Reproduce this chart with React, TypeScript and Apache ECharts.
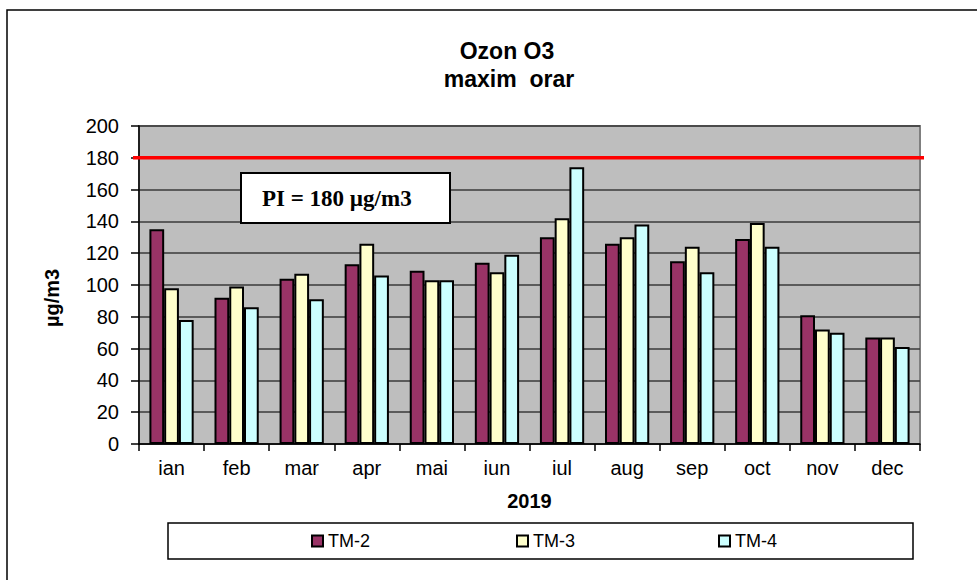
import React, { useEffect, useRef } from 'react';
import * as echarts from 'echarts';

const months = ['ian', 'feb', 'mar', 'apr', 'mai', 'iun', 'iul', 'aug', 'sep', 'oct', 'nov', 'dec'];
const tm2 = [135, 92, 104, 113, 109, 114, 130, 126, 115, 129, 81, 67];
const tm3 = [98, 99, 107, 126, 103, 108, 142, 130, 124, 139, 72, 67];
const tm4 = [78, 86, 91, 106, 103, 119, 174, 138, 108, 124, 70, 61];
const seriesNames = ['TM-2', 'TM-3', 'TM-4'];
const seriesColors = ['#993366', '#FFFFCC', '#CCFFFF'];
const yMin = 0;
const yMax = 200;
const yInterval = 20;
const limitValue = 180;
const limitLabel = 'PI = 180 µg/m3';
const titleLines = ['Ozon O3', 'maxim  orar'];
const xName = '2019';
const yName = 'µg/m3';

const SANS = '"Liberation Sans", Arial, sans-serif';
const SERIF = '"Liberation Serif", "Times New Roman", serif';

export default function App() {
  const ref = useRef<HTMLDivElement>(null);

  useEffect(() => {
    if (!ref.current) return;
    const chart = echarts.init(ref.current, null, { renderer: 'svg' });
    const data = [tm2, tm3, tm4];
    const legendLefts = [311, 516, 718];

    chart.setOption({
      animation: false,
      backgroundColor: '#ffffff',
      textStyle: { fontFamily: SANS },
      grid: {
        left: 139,
        right: 57,
        top: 126,
        bottom: 136,
        show: true,
        backgroundColor: '#BEBEBE',
        borderColor: '#7f7f7f',
        borderWidth: 2,
      },
      legend: seriesNames.map((n, i) => ({
        data: [n],
        left: legendLefts[i],
        top: 532,
        padding: 0,
        z: 10,
        icon: 'rect',
        itemWidth: 11,
        itemHeight: 11,
        textStyle: { fontSize: 18, color: '#000', fontFamily: SANS },
        selectedMode: false,
      })),
      xAxis: {
        type: 'category',
        data: months,
        axisLine: { show: true, lineStyle: { color: '#000', width: 1.5 } },
        axisTick: { show: true, length: 7, lineStyle: { color: '#000', width: 1.5 } },
        axisLabel: { fontSize: 20, color: '#000', margin: 14, fontFamily: SANS },
        name: xName,
        nameLocation: 'middle',
        nameGap: 47,
        nameTextStyle: { fontSize: 20, fontWeight: 'bold', color: '#000', fontFamily: SANS },
        splitLine: { show: false },
      },
      yAxis: {
        type: 'value',
        min: yMin,
        max: yMax,
        interval: yInterval,
        axisLine: { show: true, lineStyle: { color: '#000', width: 1.5 } },
        axisTick: { show: true, length: 8, lineStyle: { color: '#000', width: 1.5 } },
        axisLabel: { fontSize: 20, color: '#000', margin: 20, fontFamily: SANS },
        splitLine: { show: true, lineStyle: { color: '#3a3a3a', width: 1.5 } },
      },
      series: seriesNames.map((n, i) => ({
        type: 'bar',
        name: n,
        data: data[i],
        barGap: '0%',
        barCategoryGap: '32%',
        itemStyle: { color: seriesColors[i], borderColor: '#000', borderWidth: 2 },
        emphasis: { disabled: true },
      })),
    });

    const yLimit = chart.convertToPixel({ yAxisIndex: 0 }, limitValue) as number;

    chart.setOption({
      graphic: [
        {
          type: 'rect',
          z: 0,
          shape: { x: 7, y: 10, width: 1000, height: 600 },
          style: { fill: 'none', stroke: '#000', lineWidth: 1.5 },
          silent: true,
        },
        {
          type: 'text',
          x: 507,
          y: 51,
          style: {
            text: titleLines[0],
            fontSize: 23,
            fontWeight: 'bold',
            fontFamily: SANS,
            fill: '#000',
            textAlign: 'center',
            textVerticalAlign: 'middle',
          },
        },
        {
          type: 'text',
          x: 509,
          y: 79,
          style: {
            text: titleLines[1],
            fontSize: 23,
            fontWeight: 'bold',
            fontFamily: SANS,
            fill: '#000',
            textAlign: 'center',
            textVerticalAlign: 'middle',
          },
        },
        {
          type: 'text',
          x: 52,
          y: 298,
          rotation: Math.PI / 2,
          style: {
            text: yName,
            fontSize: 20,
            fontWeight: 'bold',
            fontFamily: SANS,
            fill: '#000',
            textAlign: 'center',
            textVerticalAlign: 'middle',
          },
        },
        {
          type: 'line',
          z: 20,
          shape: { x1: 133, y1: yLimit, x2: 924, y2: yLimit },
          style: { stroke: '#FF0000', lineWidth: 3.5 },
          silent: true,
        },
        {
          type: 'rect',
          z: 20,
          shape: { x: 241, y: 173, width: 209, height: 50 },
          style: { fill: '#fff', stroke: '#000', lineWidth: 2 },
          silent: true,
        },
        {
          type: 'text',
          z: 21,
          x: 262,
          y: 198,
          style: {
            text: limitLabel,
            fontSize: 23,
            fontWeight: 'bold',
            fontFamily: SERIF,
            fill: '#000',
            textAlign: 'left',
            textVerticalAlign: 'middle',
          },
        },
        {
          type: 'rect',
          z: 1,
          shape: { x: 168, y: 523, width: 745, height: 36 },
          style: { fill: '#fff', stroke: '#000', lineWidth: 1.5 },
          silent: true,
        },
      ],
    });

    return () => chart.dispose();
  }, []);

  return (
    <div
      ref={ref}
      style={{ position: 'fixed', left: 0, top: 0, width: 977, height: 580 }}
    />
  );
}
